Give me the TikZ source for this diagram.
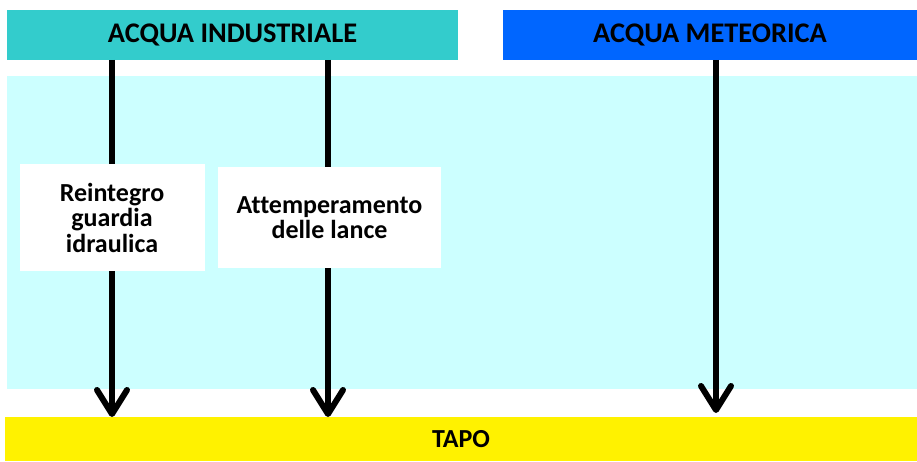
\documentclass[tikz,border=0pt]{standalone}
\usepackage{fontspec}
\setmainfont{Carlito}[Ligatures=CommonOff]
\usetikzlibrary{arrows.meta}
\definecolor{teal1}{HTML}{33CCCC}
\definecolor{blue1}{HTML}{0066FF}
\definecolor{cyan1}{HTML}{CCFFFF}
\tikzset{
  header/.style={inner sep=0pt,outer sep=0pt,minimum height=50pt,font=\fontsize{28.4}{32}\selectfont\bfseries},
  whitebox/.style={fill=white,inner sep=0pt,outer sep=0pt,align=center,font=\fontsize{26}{25.5}\selectfont\bfseries},
  flow/.style={line width=6pt,-{Straight Barb[length=24pt,width=30pt,round]}},
}
\begin{document}
\begin{tikzpicture}[x=1pt,y=-1pt]
\useasboundingbox (0,0) rectangle (917,462);
\fill[cyan1] (7,76) rectangle (917,389); %bg
\node[header,fill=teal1,minimum width=451pt] (industriale) at (232.5,35) {ACQUA INDUSTRIALE};
\node[header,fill=blue1,minimum width=414pt] (meteorica) at (710,35) {ACQUA METEORICA};
\node[whitebox,minimum width=185pt,minimum height=107pt] (reintegro) at (112,217.5) {Reintegro\\guardia\\idraulica};
\node[whitebox,minimum width=223pt,minimum height=101pt] (attemperamento) at (329.5,217.5) {Attemperamento\\delle lance};
\node[fill=yellow,inner sep=0pt,outer sep=0pt,minimum width=912pt,minimum height=44pt,font=\fontsize{26}{30}\selectfont\bfseries] (tapo) at (461,439) {TAPO};
\coordinate (met) at (716,413);
\coordinate (att) at (328,0);
%arrows
\draw[line width=6pt] (industriale.south -| reintegro) -- (reintegro.north);
\draw[flow] (reintegro.south) -- (reintegro.south |- tapo.north);
\draw[line width=6pt] (industriale.south -| att) -- (attemperamento.north -| att);
\draw[flow] (attemperamento.south -| att) -- (tapo.north -| att);
\draw[flow] (meteorica.south -| met) -- (met);
\end{tikzpicture}
\end{document}
